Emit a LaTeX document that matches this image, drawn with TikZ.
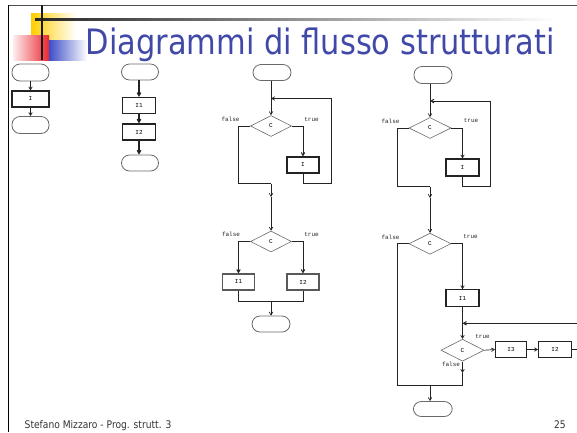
\documentclass[tikz,border=0pt]{standalone}
\usepackage{fontspec}
\setmainfont{DejaVu Sans}
\newfontfamily\slidefont[FakeStretch=0.87]{DejaVu Sans}
\newfontfamily\codefont{Liberation Mono}
\usetikzlibrary{shapes.geometric,arrows.meta,calc}

\definecolor{titleblue}{RGB}{64,72,168}
\definecolor{sunyellow}{RGB}{255,206,0}
\definecolor{brickred}{RGB}{234,38,46}
\definecolor{royalblue}{RGB}{62,78,200}
\definecolor{flowline}{RGB}{35,35,35}
\definecolor{shapeline}{RGB}{105,105,105}

\tikzset{
  codetext/.style={font=\codefont\fontsize{6}{6}\selectfont},
  termbox/.style={draw=shapeline, line width=0.8pt, rounded corners=8pt,
    minimum width=38pt, minimum height=16pt, inner sep=0pt, fill=white},
  procbox/.style={draw=flowline, line width=1.2pt, minimum width=33pt,
    minimum height=16pt, inner sep=0pt, fill=white, codetext},
  decbox/.style={diamond, draw=shapeline, line width=0.6pt, minimum width=42pt,
    minimum height=21pt, inner sep=0pt, fill=white, codetext},
  flow/.style={draw=flowline, line width=1pt},
  arr/.style={flow, -{Straight Barb[length=3pt,width=3.5pt]}},
  lbl/.style={codetext, inner sep=0pt, text=black!85},
}

\begin{document}
\begin{tikzpicture}[x=1pt, y=-1pt]
\useasboundingbox (0,0) rectangle (577,432);
\clip (0,0) rectangle (577,432);

% slide decoration: coloured squares, bars and frame
\shade[left color=sunyellow, middle color=sunyellow, right color=white] (31,13) rectangle (76,40);
\shade[left color=brickred!8, right color=brickred] (13,35) rectangle (49,60);
\shade[left color=royalblue, right color=white] (49,40) rectangle (87,60);
\shade[left color=black!85, right color=white] (35,18) rectangle (556,20.5);
\draw[black!70, line width=0.8pt] (8,5) -- (577,5);
\draw[black, line width=1pt] (8,5) -- (8,432);
\draw[black!90, line width=2pt] (41.7,5) -- (41.7,60);

% title and footer
\node[anchor=base west, inner sep=0pt, text=titleblue,
  font=\slidefont\fontsize{35}{35}\selectfont] (title) at (85.5,54) {Diagrammi di flusso strutturati};
\node[anchor=base west, inner sep=0pt, text=black!80,
  font=\slidefont\fontsize{10.5}{10.5}\selectfont] (foot) at (24.5,428.5) {Stefano Mizzaro - Prog. strutt. 3};
\node[anchor=base east, inner sep=0pt, text=black!80,
  font=\slidefont\fontsize{10.5}{10.5}\selectfont] (page) at (566,428.5) {25};

% ---- sequence of one statement
\node[termbox, minimum width=37pt, minimum height=17pt] (t1a) at (30.5,72.5) {};
\node[procbox, minimum width=37pt] (s1a) at (30.5,99) {I};
\node[termbox, minimum width=37pt, minimum height=17pt] (t1b) at (30.5,125) {};
\draw[arr, line width=0.7pt] (t1a) -- (s1a);
\draw[arr, line width=0.7pt] (s1a) -- (t1b);

% ---- sequence of two statements
\node[termbox, minimum width=37pt] (t2a) at (140,72) {};
\node[procbox] (s2a) at (139,105.5) {I1};
\node[procbox] (s2b) at (139,132) {I2};
\node[termbox, minimum width=37pt] (t2b) at (140,163) {};
\draw[arr, line width=1.3pt] (t2a.south -| s2a) -- (s2a);
\draw[arr, line width=1.3pt] (s2a) -- (s2b);
\draw[arr, line width=1.3pt] (s2b) -- (t2b.north -| s2b);

% ---- while loop followed by if-then-else
\node[termbox] (t3a) at (272,72.5) {};
\coordinate (m3a) at (271,98.5);
\node[decbox, minimum width=41pt] (c3a) at (271,126) {C};
\node[procbox, minimum width=32pt] (s3a) at (303,165) {I};
\coordinate (k3a) at (331.5,183.5);
\coordinate (f3a) at (238.5,183.5);
\coordinate (j3a) at (271,183.5);
\coordinate (o3a) at (271,197);
\node[lbl] (l3a) at (230.5,119.5) {false};
\node[lbl] (l3b) at (311.5,119.5) {true};

\draw[flow, line width=0.7pt] (t3a.south -| m3a) -- (m3a);
\draw[arr, line width=0.7pt] (m3a) -- (c3a.north);
\draw[arr] (c3a.east) -| (s3a.north);
\draw[arr, line width=0.7pt] (s3a.south) |- (k3a) |- (m3a);
\draw[flow] (c3a.west) -| (f3a) -- (j3a);
\draw[arr, line width=0.7pt] (j3a) -- (o3a);

\node[decbox, minimum width=41pt] (c3b) at (271,241.5) {C};
\node[procbox, minimum width=32pt, draw=black!65] (s3b) at (238.5,282) {I1};
\node[procbox, minimum width=32pt, draw=black!65] (s3c) at (303,282) {I2};
\coordinate (j3b) at (271,301);
\node[termbox] (t3b) at (271,324) {};
\node[lbl] (l3c) at (231,234.5) {false};
\node[lbl] (l3d) at (311.5,234.5) {true};

\draw[arr, line width=0.7pt] (o3a) -- (c3b.north);
\draw[arr] (c3b.west) -| (s3b.north);
\draw[arr] (c3b.east) -| (s3c.north);
\draw[flow] (s3b.south) |- (j3b) -| (s3c.south);
\draw[arr, line width=0.7pt] (j3b) -- (t3b.north);

% ---- while loop followed by if-then with a nested while
\node[termbox, minimum height=17pt] (t4a) at (433,75) {};
\coordinate (m4a) at (430,101);
\node[decbox] (c4a) at (430,128) {C};
\node[procbox, minimum height=17pt] (s4a) at (462.5,167.5) {I};
\coordinate (k4a) at (490.7,186.5);
\coordinate (f4a) at (397.7,186.5);
\coordinate (j4a) at (430,186.5);
\coordinate (o4a) at (430,198);
\node[lbl] (l4a) at (390.5,121) {false};
\node[lbl] (l4b) at (471,121) {true};

\draw[flow] (t4a.south -| m4a) -- (m4a);
\draw[arr, line width=0.7pt] (m4a) -- (c4a.north);
\draw[arr, line width=0.7pt] (c4a.east) -| (s4a.north);
\draw[arr] (s4a.south) |- (k4a) |- (m4a);
\draw[flow] (c4a.west) -| (f4a) -- (j4a);
\draw[arr, line width=0.7pt] (j4a) -- (o4a);

\node[decbox] (c4b) at (430,243.7) {C};
\node[procbox, minimum height=17pt] (s4b) at (462.5,298.3) {I1};
\coordinate (m4b) at (462.5,323.3);
\node[decbox, minimum width=43pt, minimum height=22pt] (c4c) at (462.5,350.2) {C};
\node[procbox, minimum width=31pt, line width=0.9pt] (s4c) at (511,349.5) {I3};
\node[procbox, line width=0.9pt] (s4d) at (555,349.5) {I2};
\coordinate (k4b) at (600,323.3);
\coordinate (o4b) at (462.5,373);
\coordinate (j4b) at (462.5,385);
\coordinate (f4b) at (397.7,385);
\coordinate (j4c) at (430,385);
\node[termbox, minimum width=39pt, minimum height=15pt] (t4b) at (432.8,409) {};
\node[lbl] (l4c) at (390.5,237) {false};
\node[lbl] (l4d) at (470.5,237) {true};
\node[lbl] (l4e) at (482.5,337) {true};
\node[lbl] (l4f) at (451,364.5) {false};

\draw[arr, line width=0.7pt] (o4a) -- (c4b.north);
\draw[arr, line width=0.7pt] (c4b.east) -| (s4b.north);
\draw[flow] (s4b.south) -- (m4b);
\draw[arr, line width=0.7pt] (m4b) -- (c4c.north);
\draw[arr, line width=0.7pt] (c4c.east) -- (s4c.west);
\draw[arr, line width=0.7pt] (s4c.east) -- (s4d.west);
\draw[arr] (s4d.east) -| (k4b) -- (m4b);
\draw[arr, line width=0.7pt] (c4c.south) -- (o4b);
\draw[flow] (o4b) -- (j4b);
\draw[flow] (c4b.west) -| (f4b) -- (j4b);
\draw[arr, line width=0.7pt] (j4c) -- (t4b.north -| j4c);
\end{tikzpicture}
\end{document}
